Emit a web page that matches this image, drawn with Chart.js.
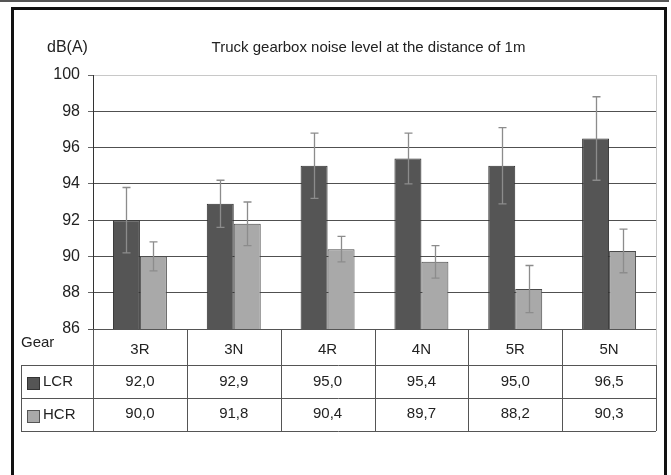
<!DOCTYPE html>
<html lang="en">
<head>
    <meta charset="UTF-8">
    <title>Truck gearbox noise level</title>
    <script src="https://cdn.jsdelivr.net/npm/chart.js@4"></script>
    <style>
        body {
            margin: 0;
            background: #ffffff;
        }
        #wrap {
            position: relative;
            width: 671px;
            height: 475px;
        }
    </style>
</head>
<body>
    <div id="wrap"><canvas id="noiseChart"></canvas></div>

    <script>
        // data
        const gears = ['3R', '3N', '4R', '4N', '5R', '5N'];
        const lcrValues = [92.0, 92.9, 95.0, 95.4, 95.0, 96.5];
        const hcrValues = [90.0, 91.8, 90.4, 89.7, 88.2, 90.3];
        const lcrErrors = [1.8, 1.3, 1.8, 1.4, 2.1, 2.3];
        const hcrErrors = [0.8, 1.2, 0.7, 0.9, 1.3, 1.2];
        const yTicks = [86, 88, 90, 92, 94, 96, 98, 100];

        const titleText = 'Truck gearbox noise level at the distance of 1m';
        const unitText = 'dB(A)';
        const FONT = '"Liberation Sans", Arial, sans-serif';

        const lcrColor = '#555555';
        const hcrColor = '#a9a9a9';

        function fmt(v) {
            return v.toFixed(1).replace('.', ',');
        }

        // frame, top rule, title and unit label
        const framePlugin = {
            id: 'frame',
            beforeDraw(chart) {
                const c = chart.ctx;
                c.save();
                c.fillStyle = '#ffffff';
                c.fillRect(0, 0, chart.width, chart.height);
                c.fillStyle = '#555555';
                c.fillRect(0, 0, 669, 2);
                c.strokeStyle = '#111111';
                c.lineWidth = 3;
                c.beginPath();
                c.moveTo(12.5, chart.height + 5);
                c.lineTo(12.5, 8.5);
                c.lineTo(665.5, 8.5);
                c.lineTo(665.5, chart.height + 5);
                c.stroke();
                c.fillStyle = '#222222';
                c.textBaseline = 'middle';
                c.textAlign = 'left';
                c.font = '16px ' + FONT;
                c.fillText(unitText, 47, 48);
                c.textAlign = 'center';
                c.font = '15px ' + FONT;
                c.fillText(titleText, 368.5, 48);
                c.restore();
            }
        };

        // error bars on top of each bar
        const errorBarPlugin = {
            id: 'errorBars',
            afterDatasetsDraw(chart) {
                const c = chart.ctx;
                const y = chart.scales.y;
                const errs = [lcrErrors, hcrErrors];
                c.save();
                c.strokeStyle = '#8c8c8c';
                c.lineWidth = 1.3;
                chart.data.datasets.forEach((ds, di) => {
                    const meta = chart.getDatasetMeta(di);
                    meta.data.forEach((bar, i) => {
                        const v = ds.data[i];
                        const e = errs[di][i];
                        const top = y.getPixelForValue(v + e);
                        const bot = y.getPixelForValue(v - e);
                        const x = Math.round(bar.x) + 0.5;
                        c.beginPath();
                        c.moveTo(x, top);
                        c.lineTo(x, bot);
                        c.moveTo(x - 4, top);
                        c.lineTo(x + 4, top);
                        c.moveTo(x - 4, bot);
                        c.lineTo(x + 4, bot);
                        c.stroke();
                    });
                });
                c.restore();
            }
        };

        // data table under the plot
        const tablePlugin = {
            id: 'dataTable',
            afterDraw(chart) {
                const c = chart.ctx;
                const area = chart.chartArea;
                const xs = chart.scales.x;
                const step = (area.right - area.left) / gears.length;
                const rows = [area.bottom, 365, 398, 431];
                const tableLeft = 21;
                c.save();
                c.strokeStyle = '#555555';
                c.lineWidth = 1;
                c.beginPath();
                c.moveTo(area.left - 5, rows[0] + 0.5);
                c.lineTo(area.right, rows[0] + 0.5);
                for (let r = 1; r < rows.length; r++) {
                    c.moveTo(tableLeft, rows[r] + 0.5);
                    c.lineTo(area.right, rows[r] + 0.5);
                }
                for (let i = 0; i <= gears.length; i++) {
                    const x = Math.round(area.left + step * i) + 0.5;
                    c.moveTo(x, rows[0]);
                    c.lineTo(x, rows[3]);
                }
                c.moveTo(tableLeft + 0.5, rows[1]);
                c.lineTo(tableLeft + 0.5, rows[3]);
                c.stroke();

                c.fillStyle = '#222222';
                c.font = '15px ' + FONT;
                c.textBaseline = 'middle';
                c.textAlign = 'left';
                c.fillText('Gear', 21, 343);
                c.fillText('LCR', 43, 382);
                c.fillText('HCR', 43, 414.5);

                c.fillStyle = lcrColor;
                c.fillRect(27, 377, 13, 13);
                c.strokeStyle = '#333333';
                c.strokeRect(27.5, 377.5, 12, 12);
                c.fillStyle = hcrColor;
                c.fillRect(27, 410, 13, 13);
                c.strokeStyle = '#555555';
                c.strokeRect(27.5, 410.5, 12, 12);

                c.fillStyle = '#222222';
                c.textAlign = 'center';
                gears.forEach((g, i) => {
                    const cx = xs.getPixelForValue(i);
                    c.fillText(g, cx, 349.5);
                    c.fillText(fmt(lcrValues[i]), cx, 381.5);
                    c.fillText(fmt(hcrValues[i]), cx, 414);
                });

                // light right edge of the plot
                c.strokeStyle = '#c8c8c8';
                c.beginPath();
                c.moveTo(area.right + 0.5, area.top);
                c.lineTo(area.right + 0.5, rows[1]);
                c.stroke();
                c.restore();
            }
        };

        const ctx = document.getElementById('noiseChart').getContext('2d');
        new Chart(ctx, {
            type: 'bar',
            data: {
                labels: gears,
                datasets: [
                    {
                        label: 'LCR',
                        data: lcrValues,
                        backgroundColor: lcrColor,
                        borderColor: '#2e2e2e',
                        borderWidth: 1,
                        categoryPercentage: 0.575,
                        barPercentage: 1.0
                    },
                    {
                        label: 'HCR',
                        data: hcrValues,
                        backgroundColor: hcrColor,
                        borderColor: '#4a4a4a',
                        borderWidth: 1,
                        categoryPercentage: 0.575,
                        barPercentage: 1.0
                    }
                ]
            },
            options: {
                responsive: true,
                maintainAspectRatio: false,
                animation: false,
                layout: {
                    padding: { top: 75, left: 33, right: 15, bottom: 146 }
                },
                plugins: {
                    legend: { display: false },
                    title: { display: false },
                    tooltip: { enabled: false }
                },
                scales: {
                    x: {
                        display: false,
                        grid: { display: false }
                    },
                    y: {
                        min: yTicks[0],
                        max: yTicks[yTicks.length - 1],
                        afterFit(scale) { scale.width = 60; },
                        afterBuildTicks(scale) {
                            scale.ticks = yTicks.map(v => ({ value: v }));
                        },
                        ticks: {
                            color: '#222222',
                            padding: 8,
                            font: { family: FONT, size: 16 }
                        },
                        grid: {
                            color: c => (c.tick && c.tick.value === 100 ? '#c8c8c8' : '#505050'),
                            tickColor: '#666666',
                            tickLength: 5,
                            lineWidth: 1
                        },
                        border: { color: '#333333', width: 1 }
                    }
                }
            },
            plugins: [framePlugin, errorBarPlugin, tablePlugin]
        });
    </script>
</body>
</html>
